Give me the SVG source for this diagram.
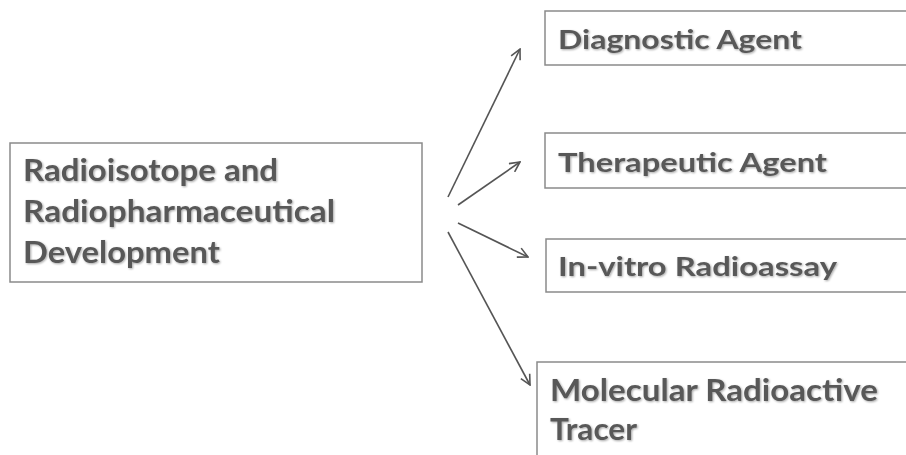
<svg xmlns="http://www.w3.org/2000/svg" width="906" height="455" viewBox="0 0 906 455">
<defs>
<style>
.box{fill:#fff;stroke:#8a8a8a;stroke-width:1.5}
.t{font-family:Lato,"Open Sans","Liberation Sans",sans-serif;font-weight:bold;fill:#595959;filter:url(#sh)}
.big{font-size:31px}
.sm{font-size:27px}
.c{stroke:#555;stroke-width:1.6;fill:none;marker-end:url(#ah)}
</style>
<filter id="sh" x="-5%" y="-20%" width="110%" height="140%">
<feGaussianBlur in="SourceAlpha" stdDeviation="1.2" result="b"/>
<feOffset dx="1" dy="1" result="o"/>
<feComponentTransfer in="o" result="s"><feFuncA type="linear" slope="0.35"/></feComponentTransfer>
<feMerge><feMergeNode in="s"/><feMergeNode in="SourceGraphic"/></feMerge>
</filter>
<marker id="ah" viewBox="0 0 12 12" refX="11" refY="6" markerWidth="12" markerHeight="12" markerUnits="userSpaceOnUse" orient="auto">
<path d="M1,1 L11,6 L1,11" fill="none" stroke="#555" stroke-width="1.6"/>
</marker>
</defs>
<rect width="906" height="455" fill="#fff"/>
<g id="connectors">
<line class="c" x1="448" y1="197" x2="520" y2="49"/>
<line class="c" x1="458" y1="205" x2="520" y2="162"/>
<line class="c" x1="458" y1="223" x2="528" y2="257"/>
<line class="c" x1="448" y1="232" x2="530" y2="385"/>
</g>
<g id="source">
<rect class="box" x="10" y="143" width="412" height="139"/>
<text class="t big" x="23" y="181" textLength="255" lengthAdjust="spacingAndGlyphs">Radioisotope and</text>
<text class="t big" x="23" y="222" textLength="312" lengthAdjust="spacingAndGlyphs">Radiopharmaceutical</text>
<text class="t big" x="23" y="263" textLength="197" lengthAdjust="spacingAndGlyphs">Development</text>
</g>
<g id="diagnostic">
<rect class="box" x="545" y="11" width="380" height="54"/>
<text class="t sm" x="558" y="48.5" textLength="244" lengthAdjust="spacingAndGlyphs">Diagnostic Agent</text>
</g>
<g id="therapeutic">
<rect class="box" x="545" y="133" width="380" height="55"/>
<text class="t sm" x="558" y="172" textLength="269" lengthAdjust="spacingAndGlyphs">Therapeutic Agent</text>
</g>
<g id="invitro">
<rect class="box" x="546" y="239" width="380" height="53"/>
<text class="t sm" x="558" y="276" textLength="279" lengthAdjust="spacingAndGlyphs">In-vitro Radioassay</text>
</g>
<g id="molecular">
<rect class="box" x="537" y="362" width="390" height="120"/>
<text class="t big" x="550" y="401" textLength="328" lengthAdjust="spacingAndGlyphs">Molecular Radioactive</text>
<text class="t big" x="550" y="440" textLength="87" lengthAdjust="spacingAndGlyphs">Tracer</text>
</g>
</svg>
